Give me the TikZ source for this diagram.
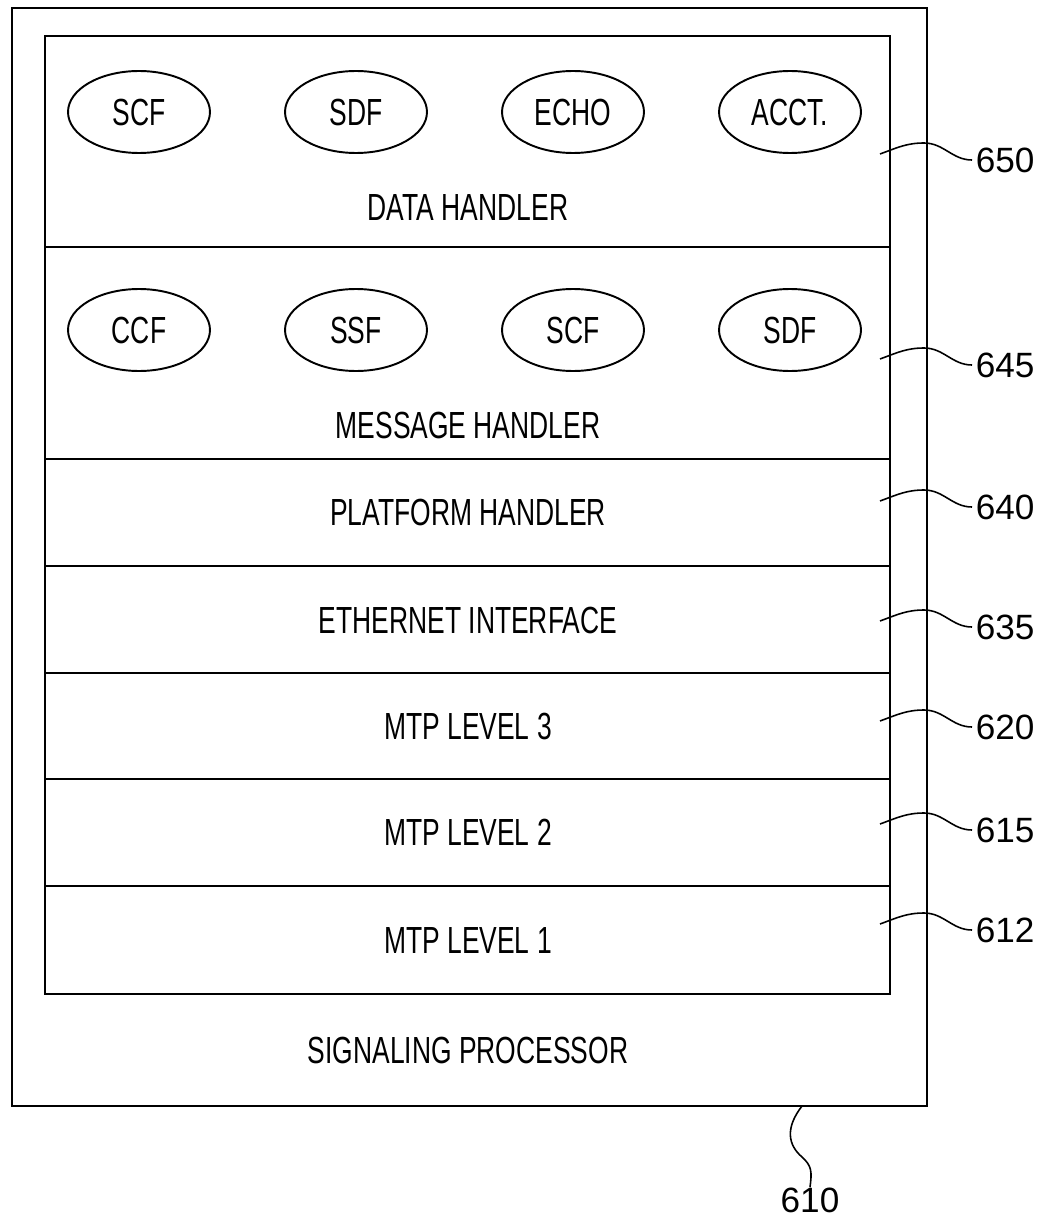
\documentclass[tikz,border=0pt]{standalone}
\usepackage{fontspec}
\setmainfont{Liberation Sans}
\newfontfamily\narrowfont[FakeStretch=0.7]{Liberation Sans}
\usepackage{tikz}
\usetikzlibrary{shapes.geometric,positioning}

\tikzset{
  layer/.style={draw, line width=1.1pt},
  func/.style={draw, ellipse, line width=1.1pt, minimum width=2.84cm, minimum height=1.64cm,
    inner sep=0pt, font=\narrowfont\fontsize{21.5}{24}\selectfont},
  lbl/.style={font=\narrowfont\fontsize{21.5}{24}\selectfont},
  refnum/.style={anchor=west, inner sep=2pt, font=\fontsize{20}{24}\selectfont},
  lead/.style={line width=0.9pt},
}

\begin{document}
\begin{tikzpicture}[x=0.02cm,y=0.02cm]
  \useasboundingbox (0,0) rectangle (1044,-1223);
  % signaling processor and its stack
  \draw[layer] (12,-8) rectangle (927,-1106);
  \draw[layer] (45,-36) rectangle (890,-994);
  \foreach \y in {247,459,566,673,779,886}{
      \draw[layer] (45,-\y) -- (890,-\y);
    }
  % data handler
  \foreach \name/\txt [count=\i] in {scfA/SCF, sdfA/SDF, echo/ECHO, acct/ACCT.}{
      \node[func] (\name) at ({139+217*(\i-1)},-112) {\txt};
    }
  \node[lbl] (datah) at (468,-208) {DATA HANDLER};
  % message handler
  \foreach \name/\txt [count=\i] in {ccf/CCF, ssf/SSF, scfB/SCF, sdfB/SDF}{
      \node[func] (\name) at ({139+217*(\i-1)},-330) {\txt};
    }
  \node[lbl] (msgh) at (468,-425) {MESSAGE HANDLER};
  \node[lbl] (plath) at (468,-512) {PLATFORM HANDLER};
  \node[lbl] (ether) at (468,-620) {ETHERNET INTERFACE};
  \node[lbl] (mtp3) at (468,-726) {MTP LEVEL 3};
  \node[lbl] (mtp2) at (468,-832) {MTP LEVEL 2};
  \node[lbl] (mtp1) at (468,-940) {MTP LEVEL 1};
  \node[lbl] (sigp) at (468,-1050) {SIGNALING PROCESSOR};
  % reference numerals
  \foreach \num/\ly in {650/160, 645/365, 640/507, 635/627, 620/727, 615/830, 612/930}{
      \node[refnum] (r\num) at (972,-\ly) {\num};
      \coordinate (s\num) at (880,{-\ly+6});
      \coordinate (p\num) at (924,{-\ly+17});
      \draw[lead] (s\num) to[out=20,in=180] (p\num) to[out=0,in=180] (r\num.west);
    }
  \node[font=\fontsize{20}{24}\selectfont, inner sep=0pt] (r610) at (810,-1200) {610};
  \coordinate (s610) at (802,-1106);
  \draw[lead] (s610) .. controls (785,-1128) and (788,-1145) .. (802,-1157)
    .. controls (812,-1166) and (812,-1172) .. (r610.north);
\end{tikzpicture}
\end{document}
